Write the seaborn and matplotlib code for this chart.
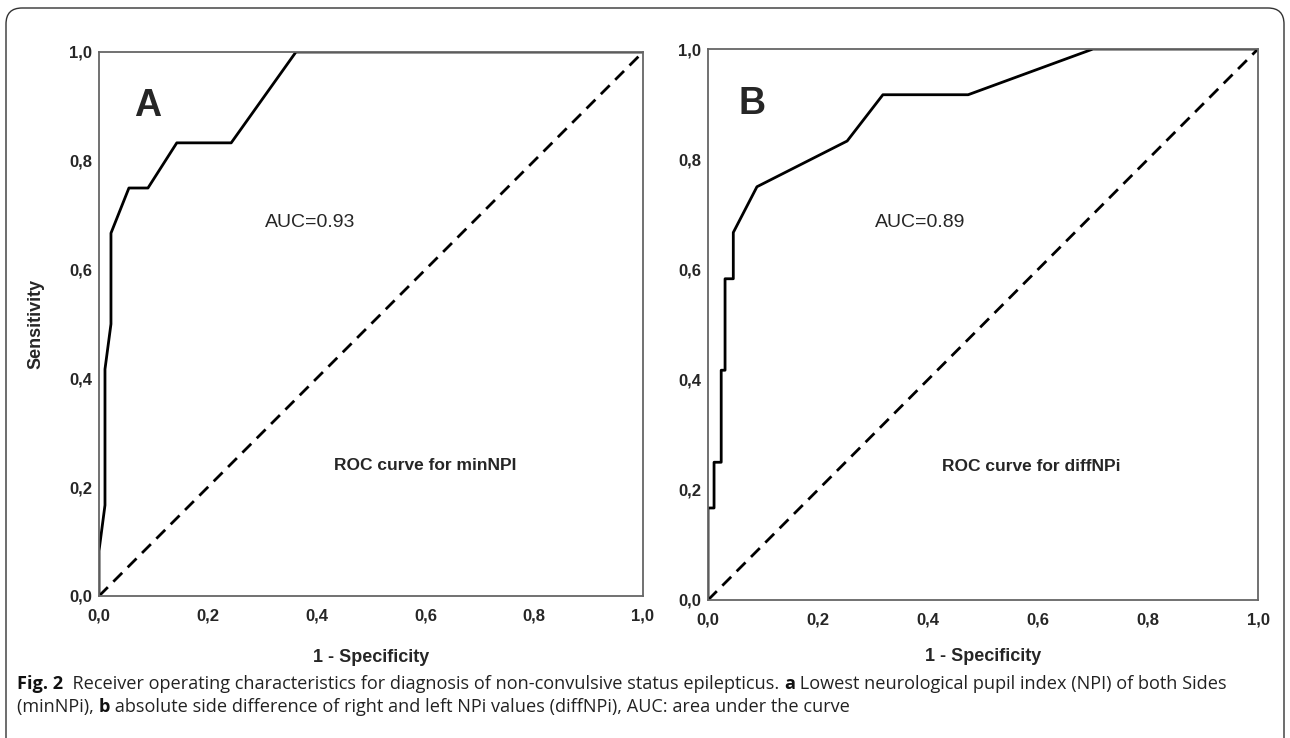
import numpy as np
import pandas as pd
import seaborn as sns
import matplotlib.pyplot as plt
from matplotlib.patches import FancyBboxPatch
from matplotlib import font_manager

# ROC points (1 - specificity, sensitivity)
a_fpr = [0.0, 0.0, 0.011, 0.011, 0.022, 0.022, 0.055, 0.09, 0.143, 0.243, 0.362, 1.0]
a_tpr = [0.0, 0.083, 0.167, 0.417, 0.5, 0.667, 0.75, 0.75, 0.833, 0.833, 1.0, 1.0]

b_fpr = [0.0, 0.0, 0.011, 0.011, 0.024, 0.024, 0.031, 0.031, 0.046, 0.046, 0.089,
         0.253, 0.318, 0.473, 0.7, 1.0]
b_tpr = [0.0, 0.167, 0.167, 0.25, 0.25, 0.417, 0.417, 0.583, 0.583, 0.667, 0.75,
         0.833, 0.917, 0.917, 1.0, 1.0]

diag = [0.0, 1.0]
ticks = [0.0, 0.2, 0.4, 0.6, 0.8, 1.0]
tick_labels = ['0,0', '0,2', '0,4', '0,6', '0,8', '1,0']

panel_letters = ['A', 'B']
auc_texts = ['AUC=0.93', 'AUC=0.89']
roc_texts = ['ROC curve for minNPI', 'ROC curve for diffNPi']

caption = [
    [('Fig. 2', 'bold'), ('  Receiver operating characteristics for diagnosis of non-convulsive status epilepticus. ', 'normal'),
     ('a', 'bold'), (' Lowest neurological pupil index (NPI) of both Sides', 'normal')],
    [('(minNPi), ', 'normal'), ('b', 'bold'),
     (' absolute side difference of right and left NPi values (diffNPi), AUC: area under the curve', 'normal')],
]

sns.set_theme(style='white')


def has_font(name):
    try:
        font_manager.findfont(name, fallback_to_default=False)
        return True
    except Exception:
        return False


narrow = 'Liberation Sans Narrow' if has_font('Liberation Sans Narrow') else 'Liberation Sans'
plt.rcParams['font.family'] = ['Liberation Sans', 'DejaVu Sans']

fig = plt.figure(figsize=(12.9, 7.38), dpi=100)

# background layer in pixel coordinates for the frame and the caption
bg = fig.add_axes([0, 0, 1, 1])
bg.set_xlim(0, 1290)
bg.set_ylim(738, 0)
bg.axis('off')
bg.add_patch(FancyBboxPatch((6, 8), 1278, 760, boxstyle='round,pad=0,rounding_size=16',
                            fc='white', ec='#333333', lw=1.0))

ax_a = fig.add_axes([99 / 1290, 142 / 738, 544 / 1290, 544 / 738])
ax_b = fig.add_axes([708 / 1290, 138 / 738, 550 / 1290, 551 / 738])


def roc_panel(ax, fpr, tpr, letter, auc, roc, letter_pos, auc_pos, roc_pos, ylab, xlabpad):
    df = pd.DataFrame({'fpr': fpr, 'tpr': tpr})
    sns.lineplot(data=df, x='fpr', y='tpr', sort=False, estimator=None, color='black',
                 lw=2.0, ax=ax)
    dd = pd.DataFrame({'x': diag, 'y': diag})
    sns.lineplot(data=dd, x='x', y='y', estimator=None, color='black', lw=2.0, ax=ax)
    ax.lines[-1].set_dashes([4.5, 2.8])
    ax.set_xlim(0, 1)
    ax.set_ylim(0, 1)
    ax.set_xticks(ticks)
    ax.set_yticks(ticks)
    ax.set_xticklabels(tick_labels, family=narrow, weight='bold', fontsize=12)
    ax.set_yticklabels(tick_labels, family=narrow, weight='bold', fontsize=12)
    ax.tick_params(axis='x', length=0, pad=9)
    ax.tick_params(axis='y', length=0, pad=5)
    for sp in ax.spines.values():
        sp.set_color('#666666')
        sp.set_linewidth(1.3)
    ax.set_xlabel('1 - Specificity', fontsize=13, weight='bold', family=narrow, labelpad=xlabpad)
    if ylab:
        ax.set_ylabel('Sensitivity', fontsize=13, weight='bold', family=narrow, labelpad=18)
    else:
        ax.set_ylabel('')
    ax.text(*letter_pos, letter, fontsize=27, weight='bold', ha='center', va='center')
    ax.text(*auc_pos, auc, fontsize=14, ha='center', va='center')
    ax.text(*roc_pos, roc, fontsize=12.5, weight='bold', ha='center', va='center')


roc_panel(ax_a, a_fpr, a_tpr, panel_letters[0], auc_texts[0], roc_texts[0],
          (0.09, 0.90), (0.388, 0.687), (0.6, 0.239), True, 18)
roc_panel(ax_b, b_fpr, b_tpr, panel_letters[1], auc_texts[1], roc_texts[1],
          (0.08, 0.90), (0.385, 0.686), (0.587, 0.243), False, 15)

# caption, written run by run so bold and normal parts follow each other
fig.canvas.draw()
renderer = fig.canvas.get_renderer()
cap_family = ['Open Sans', 'DejaVu Sans']
cap_size = 11
# scale the size so the first line ends where it does in the picture
probe = []
x = 17
for txt, w in caption[0]:
    t = bg.text(x, 684, txt, fontsize=cap_size, weight=w, family=cap_family, va='center')
    probe.append(t)
    x += t.get_window_extent(renderer).width
for t in probe:
    t.remove()
cap_size = cap_size * (1233 - 17) / (x - 17)

for row, y in zip(caption, [684, 707]):
    x = 17
    for txt, w in row:
        t = bg.text(x, y, txt, fontsize=cap_size, weight=w, family=cap_family, va='center',
                    color='#222222' if w == 'normal' else '#111111')
        x += t.get_window_extent(renderer).width

fig.savefig('out.png', dpi=100)
